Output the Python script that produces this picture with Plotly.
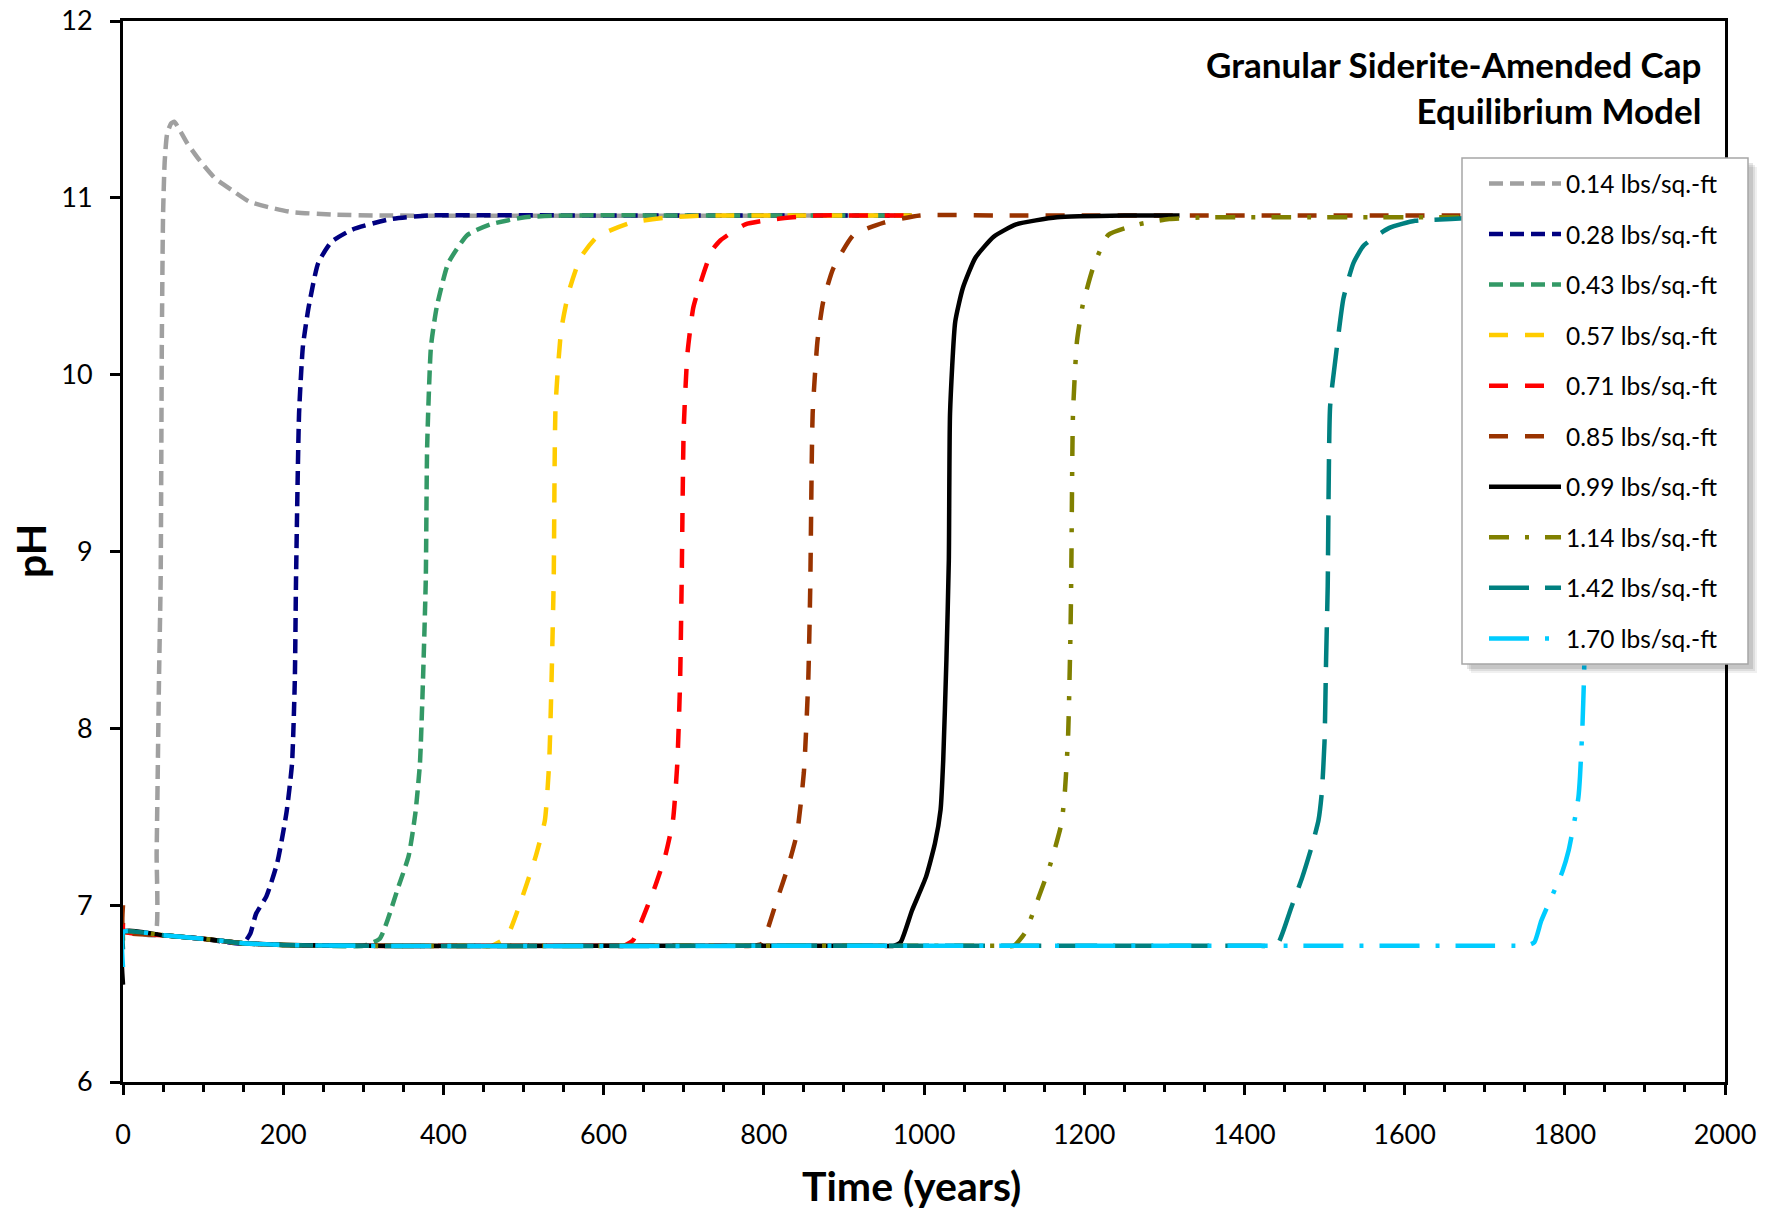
import plotly.graph_objects as go

# ---------------- data ----------------
labels = ["0.14 lbs/sq.-ft", "0.28 lbs/sq.-ft", "0.43 lbs/sq.-ft", "0.57 lbs/sq.-ft",
          "0.71 lbs/sq.-ft", "0.85 lbs/sq.-ft", "0.99 lbs/sq.-ft", "1.14 lbs/sq.-ft",
          "1.42 lbs/sq.-ft", "1.70 lbs/sq.-ft"]

t_014 = [0, 1, 20, 40, 42, 45, 47, 48.5, 50, 52, 55, 60, 64, 70, 80, 96, 115, 137, 157, 179, 210, 262, 320, 985]
ph_014 = [6.85, 6.85, 6.84, 6.83, 7.3, 8.3, 8.84, 10.2, 10.9, 11.2, 11.36, 11.42, 11.43, 11.39, 11.31, 11.21,
          11.11, 11.04, 10.98, 10.95, 10.92, 10.905, 10.90, 10.90]

t_028 = [0, 1, 50, 100, 150, 159, 166, 179, 192.6, 204, 211, 214.5, 216, 219.8, 224.6, 231.7, 243.6, 260,
         286, 334, 382, 600, 985]
ph_028 = [6.85, 6.85, 6.83, 6.81, 6.785, 6.84, 6.95, 7.05, 7.24, 7.52, 7.80, 8.27, 8.84, 9.78, 10.16, 10.38,
          10.63, 10.75, 10.82, 10.88, 10.90, 10.90, 10.90]

t_043 = [0, 1, 50, 100, 150, 200, 250, 300, 320.5, 342.8, 356.7, 365, 370.7, 374.5, 378, 379.7, 384.5, 391.6,
         406, 430, 458.6, 501.6, 549, 750, 985]
ph_043 = [6.85, 6.85, 6.83, 6.81, 6.785, 6.775, 6.77, 6.77, 6.81, 7.09, 7.28, 7.52, 7.80, 8.27, 8.84, 9.59,
          10.16, 10.38, 10.63, 10.79, 10.85, 10.89, 10.90, 10.90, 10.90]

t_057 = [0, 1, 50, 100, 150, 200, 300, 400, 440, 460, 479, 498.8, 515.5, 526.7, 532, 535, 537.7, 540, 547,
         556.6, 571, 592, 635, 683, 731, 850, 985]
ph_057 = [6.85, 6.85, 6.83, 6.81, 6.785, 6.775, 6.77, 6.77, 6.77, 6.77, 6.82, 7.05, 7.28, 7.48, 7.80, 8.27,
          8.84, 9.82, 10.25, 10.47, 10.66, 10.78, 10.86, 10.89, 10.90, 10.90, 10.90]

t_071 = [0, 1, 50, 100, 150, 200, 300, 450, 580, 610, 625, 636.5, 646.5, 663, 677, 686.6, 692, 695.5, 697.5,
         700, 704.7, 712, 721, 735, 746, 777, 815, 866, 930, 985]
ph_071 = [6.9, 6.85, 6.83, 6.81, 6.785, 6.775, 6.77, 6.77, 6.77, 6.77, 6.77, 6.80, 6.90, 7.09, 7.28, 7.48,
          7.80, 8.27, 8.84, 9.69, 10.12, 10.38, 10.52, 10.70, 10.76, 10.85, 10.88, 10.90, 10.90, 10.90]

t_085 = [0, 1, 50, 100, 150, 200, 300, 500, 740, 770, 785, 797, 816.5, 830.4, 841.6, 850, 855.5, 858, 861,
         867, 874, 886.6, 912, 950, 995, 1100, 1400, 1800]
ph_085 = [7.0, 6.85, 6.83, 6.81, 6.785, 6.775, 6.77, 6.77, 6.77, 6.77, 6.77, 6.78, 7.03, 7.22, 7.41, 7.75,
          8.27, 8.8, 9.78, 10.19, 10.41, 10.6, 10.79, 10.86, 10.90, 10.90, 10.90, 10.90]

t_099 = [0, 1, 50, 100, 150, 200, 300, 600, 920, 950, 962, 970.8, 985, 1002.5, 1013.7, 1020.7, 1024, 1028,
         1031, 1032.5, 1039, 1048.5, 1064, 1087, 1115, 1166, 1250, 1319]
ph_099 = [6.55, 6.85, 6.83, 6.81, 6.785, 6.775, 6.77, 6.77, 6.77, 6.77, 6.77, 6.79, 6.97, 7.16, 7.35, 7.54,
          7.82, 8.39, 8.95, 9.78, 10.3, 10.49, 10.66, 10.78, 10.85, 10.89, 10.90, 10.90]

t_114 = [0, 1, 50, 100, 150, 200, 300, 700, 1070, 1100, 1112, 1125.6, 1142.8, 1157, 1171.5, 1176, 1180,
         1183, 1184, 1186, 1191, 1198, 1210.8, 1230, 1268, 1306, 1357, 1450, 1600, 1800]
ph_114 = [6.8, 6.85, 6.83, 6.81, 6.785, 6.775, 6.77, 6.77, 6.77, 6.77, 6.77, 6.84, 7.04, 7.22, 7.46, 7.65,
          7.97, 8.57, 8.93, 9.78, 10.19, 10.39, 10.6, 10.79, 10.85, 10.88, 10.89, 10.89, 10.89, 10.89]

t_142 = [0, 1, 50, 100, 150, 200, 300, 800, 1390, 1420, 1432, 1442.5, 1458, 1472.4, 1484, 1492.5, 1496.5,
         1500, 1502, 1504, 1507, 1514, 1523.6, 1536, 1549, 1581, 1613, 1658, 1700, 1800]
ph_142 = [6.75, 6.85, 6.83, 6.81, 6.785, 6.775, 6.77, 6.77, 6.77, 6.77, 6.77, 6.79, 6.98, 7.16, 7.33, 7.48,
          7.63, 7.92, 8.39, 8.8, 9.82, 10.1, 10.43, 10.63, 10.73, 10.83, 10.87, 10.88, 10.89, 10.90]

t_170 = [0, 1, 50, 100, 150, 200, 300, 900, 1710, 1740, 1752, 1762, 1770.5, 1787.7, 1797, 1804.8, 1813,
         1817, 1819, 1822, 1824, 1826, 1829, 1836, 1846, 1860, 1880, 1920, 1980, 2000]
ph_170 = [6.65, 6.85, 6.83, 6.81, 6.785, 6.775, 6.77, 6.77, 6.77, 6.77, 6.77, 6.79, 6.91, 7.09, 7.19, 7.31,
          7.5, 7.61, 7.73, 8.01, 8.29, 8.8, 9.8, 10.2, 10.45, 10.65, 10.78, 10.86, 10.89, 10.90]

series_t = [t_014, t_028, t_043, t_057, t_071, t_085, t_099, t_114, t_142, t_170]
series_ph = [ph_014, ph_028, ph_043, ph_057, ph_071, ph_085, ph_099, ph_114, ph_142, ph_170]

x_ticks = list(range(0, 2001, 200))
y_ticks = [6, 7, 8, 9, 10, 11, 12]

# ---------------- styles ----------------
colors = ["#A0A0A0", "#000080", "#339966", "#FFCC00", "#FF0000", "#993300", "#000000",
          "#808000", "#008080", "#00CCFF"]
dashes = ["14px,7px", "14px,7px", "14px,7px", "19px,17px", "19px,17px", "19px,17px", "solid",
          "20px,16px,4px,16px", "40px,16px", "40px,16px,4px,16px"]

FONT = "Lato"

fig = go.Figure()
for i in range(len(labels)):
    fig.add_trace(go.Scatter(
        x=series_t[i], y=series_ph[i], mode="lines", name=labels[i],
        legendgroup="g%d" % i,
        line=dict(color=colors[i], width=4.5, dash=dashes[i], shape="spline", smoothing=0.5),
    ))

W, H = 1781, 1212
L, R, T, B = 123, 1725, 21, 1082


def px2paper(px, py):
    return (px - L) / (R - L), (B - py) / (B - T)


# legend box (drawn as shapes so that it can have padding and a soft shadow)
BX0, BY0, BX1, BY1 = 1462, 158, 1748, 664
shapes = []
for off, alpha in [(9, 0.06), (7, 0.08), (5, 0.10)]:
    a0, b0 = px2paper(BX0 + off, BY0 + off)
    a1, b1 = px2paper(BX1 + off, BY1 + off)
    shapes.append(dict(type="rect", xref="paper", yref="paper", x0=a0, x1=a1, y0=b1, y1=b0,
                       fillcolor="rgba(0,0,0,%.2f)" % alpha, line=dict(width=0), layer="above"))
a0, b0 = px2paper(BX0, BY0)
a1, b1 = px2paper(BX1, BY1)
shapes.append(dict(type="rect", xref="paper", yref="paper", x0=a0, x1=a1, y0=b1, y1=b0,
                   fillcolor="white", line=dict(width=1.5, color="#A6A6A6"), layer="above"))

lx, ly = px2paper(1484, 161)
ax_title_x, ax_title_y = px2paper(911, 1185)
ph_x, ph_y = px2paper(30, 551)
tt_x, tt_y = px2paper(1703, 87)

fig.update_layout(
    width=W, height=H,
    margin=dict(l=L, r=W - R, t=T, b=H - B, autoexpand=False),
    paper_bgcolor="white", plot_bgcolor="white",
    font=dict(family=FONT, color="black", size=27),
    showlegend=True,
    shapes=shapes,
    legend=dict(x=lx, y=ly, xanchor="left", yanchor="top",
                bgcolor="rgba(0,0,0,0)", borderwidth=0,
                font=dict(family=FONT, size=24.5, color="black"),
                tracegroupgap=15.7, itemwidth=72),
    xaxis=dict(range=[0, 2000], tickvals=x_ticks, ticks="outside", ticklen=10, tickwidth=3,
               tickcolor="black", showline=True, linewidth=3, linecolor="black", mirror=True,
               showgrid=False, zeroline=False, ticklabelstandoff=17, automargin=False,
               tickfont=dict(family=FONT, size=27, color="black"),
               minor=dict(dtick=50, ticks="outside", ticklen=7, tickwidth=3, tickcolor="black",
                          showgrid=False)),
    yaxis=dict(range=[6, 12], tickvals=y_ticks, ticks="outside", ticklen=10, tickwidth=3,
               tickcolor="black", showline=True, linewidth=3, linecolor="black", mirror=True,
               showgrid=False, zeroline=False, ticklabelstandoff=12, automargin=False,
               tickfont=dict(family=FONT, size=27, color="black")),
    annotations=[
        dict(text="<b>Time (years)</b>", xref="paper", yref="paper", x=ax_title_x, y=ax_title_y,
             xanchor="center", yanchor="middle", showarrow=False,
             font=dict(family=FONT, size=41, color="black")),
        dict(text="<b>pH</b>", xref="paper", yref="paper", x=ph_x, y=ph_y, textangle=-90,
             xanchor="center", yanchor="middle", showarrow=False,
             font=dict(family=FONT, size=41, color="black")),
        dict(text="<b>Granular Siderite-Amended Cap</b><br><b>Equilibrium Model</b>",
             xref="paper", yref="paper", x=tt_x, y=tt_y, xanchor="right", yanchor="middle",
             align="right", showarrow=False,
             font=dict(family=FONT, size=35, color="black")),
    ],
)

fig.write_html("out.html", config={"displayModeBar": False},
               post_script="document.body.style.margin='0';document.body.style.overflow='hidden';")
